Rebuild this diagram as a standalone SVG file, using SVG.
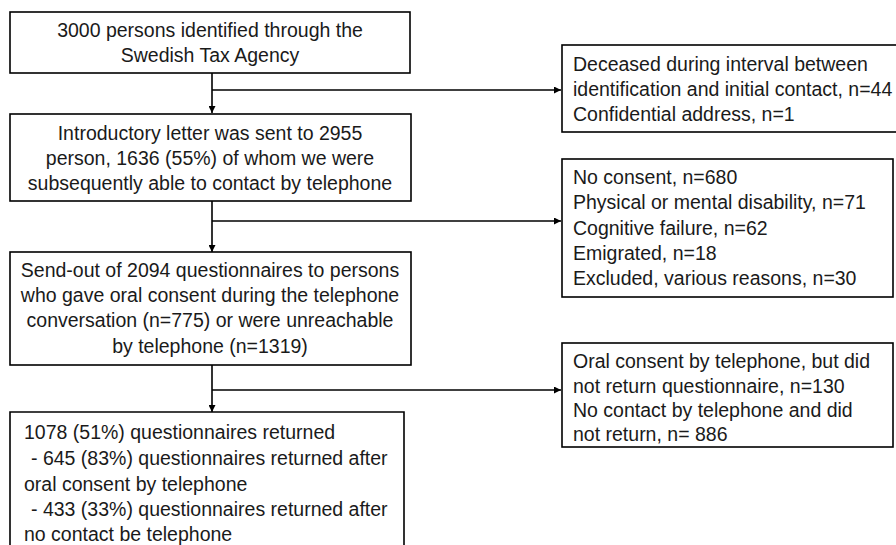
<svg xmlns="http://www.w3.org/2000/svg" width="896" height="545" viewBox="0 0 896 545">
<style>
.box{fill:#fff;stroke:#000;stroke-width:1.6}
.t{font-family:"Liberation Sans",Arial,sans-serif;font-size:19.5px;fill:#1a1a1a}
.c{text-anchor:middle}
.ln{fill:none;stroke:#000;stroke-width:1.6}
</style>
<defs>
<marker id="ah" viewBox="0 0 10 10" refX="10" refY="5" markerWidth="7" markerHeight="7" markerUnits="userSpaceOnUse" orient="auto">
<path d="M0,0 L10,5 L0,10 z" fill="#000"/>
</marker>
</defs>
<rect width="896" height="545" fill="#fff"/>
<g id="connectors">
<path class="ln" d="M212,73 V113" marker-end="url(#ah)"/>
<path class="ln" d="M212,90 H561" marker-end="url(#ah)"/>
<path class="ln" d="M212,201 V252" marker-end="url(#ah)"/>
<path class="ln" d="M212,221 H561" marker-end="url(#ah)"/>
<path class="ln" d="M212,365 V412" marker-end="url(#ah)"/>
<path class="ln" d="M212,390 H561" marker-end="url(#ah)"/>
</g>
<g id="n1">
<rect class="box" x="10" y="12" width="400" height="61"/>
<text class="t c" x="210" y="37">3000 persons identified through the</text>
<text class="t c" x="210" y="62">Swedish Tax Agency</text>
</g>
<g id="n2">
<rect class="box" x="10" y="114" width="401" height="87"/>
<text class="t c" x="210" y="140">Introductory letter was sent to 2955</text>
<text class="t c" x="210" y="165">person, 1636 (55%) of whom we were</text>
<text class="t c" x="210" y="190">subsequently able to contact by telephone</text>
</g>
<g id="n3">
<rect class="box" x="10" y="252" width="401" height="113"/>
<text class="t c" x="210" y="277">Send-out of 2094 questionnaires to persons</text>
<text class="t c" x="210" y="302">who gave oral consent during the telephone</text>
<text class="t c" x="210" y="327">conversation (n=775) or were unreachable</text>
<text class="t c" x="210" y="353">by telephone (n=1319)</text>
</g>
<g id="n4">
<path class="box" d="M10,550 V412 H404 V550"/>
<text class="t" x="24" y="439">1078 (51%) questionnaires returned</text>
<text class="t" x="31" y="465">- 645 (83%) questionnaires returned after</text>
<text class="t" x="24" y="491">oral consent by telephone</text>
<text class="t" x="31" y="516">- 433 (33%) questionnaires returned after</text>
<text class="t" x="24" y="541">no contact be telephone</text>
</g>
<g id="r1">
<rect class="box" x="562" y="45" width="345" height="87"/>
<text class="t" x="573" y="71">Deceased during interval between</text>
<text class="t" x="573" y="96">identification and initial contact, n=44</text>
<text class="t" x="573" y="121">Confidential address, n=1</text>
</g>
<g id="r2">
<rect class="box" x="562" y="159" width="331" height="138"/>
<text class="t" x="573" y="184">No consent, n=680</text>
<text class="t" x="573" y="209">Physical or mental disability, n=71</text>
<text class="t" x="573" y="235">Cognitive failure, n=62</text>
<text class="t" x="573" y="260">Emigrated, n=18</text>
<text class="t" x="573" y="285">Excluded, various reasons, n=30</text>
</g>
<g id="r3">
<rect class="box" x="562" y="343" width="331" height="104"/>
<text class="t" x="573" y="368">Oral consent by telephone, but did</text>
<text class="t" x="573" y="393">not return questionnaire, n=130</text>
<text class="t" x="573" y="417">No contact by telephone and did</text>
<text class="t" x="573" y="441">not return, n= 886</text>
</g>
</svg>
